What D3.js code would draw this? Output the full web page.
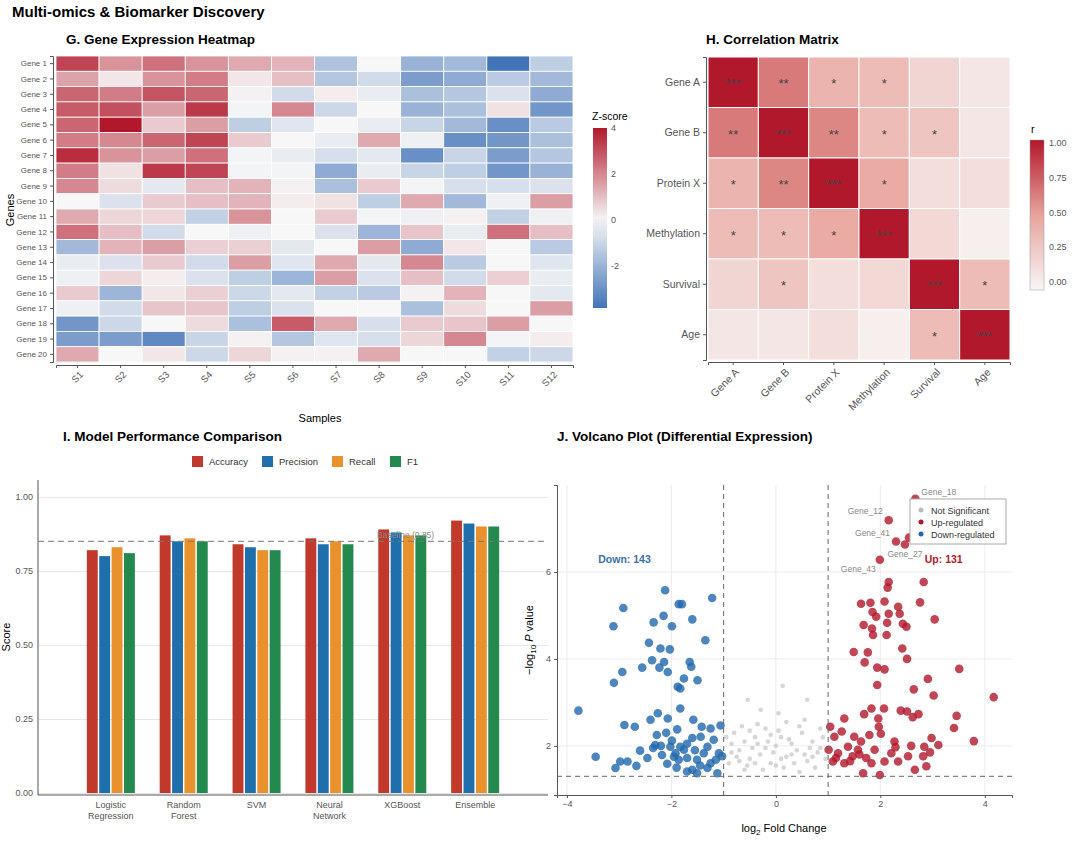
<!DOCTYPE html>
<html><head><meta charset="utf-8">
<script src="https://cdn.jsdelivr.net/npm/d3@7"></script>
<style>body{margin:0;background:#fff}text{font-family:"Liberation Sans",Arial,sans-serif}</style>
</head><body><div id="chart"></div>
<script>
// ---- data ----
const genes = d3.range(1, 21).map(i => 'Gene ' + i)
const samples = d3.range(1, 13).map(i => 'S' + i)
const zScores = [
  [3.2,1.8,2.4,1.8,1.4,1.2,-1.5,0,-2,-1.8,-3.8,-1.2],
  [1.5,0.3,1.8,2.2,0.3,1.0,-1.4,-0.8,-2.6,-2.2,-1.3,-1.8],
  [2.6,2.2,2.9,2.6,0.1,-0.8,0.2,-0.3,-1.6,-1.4,-0.6,-2.2],
  [2.8,3.0,1.6,3.4,-0.1,2.0,-0.9,0,-2.0,-1.6,0.4,-2.8],
  [2.6,4.0,0.8,1.6,-1.2,-0.5,0,-0.3,-1.0,-1.8,-3.0,-1.3],
  [2.2,2.0,2.6,3.2,0.8,0,-0.3,1.4,-0.2,-3.0,-2.8,-1.6],
  [3.6,1.8,1.6,2.4,-0.1,-0.3,-0.7,-0.4,-3.0,-1.0,-2.6,-1.4],
  [2.2,0.4,3.4,3.2,-0.1,-0.1,-2.2,-0.3,-1.0,-1.2,-2.8,-2.0],
  [2.0,0.5,-0.4,1.0,1.2,0.1,-1.6,0.8,-0.1,-0.7,-0.7,-0.6],
  [0,-0.6,0.8,1.0,1.2,0.2,0.4,-1.2,1.4,-1.8,-0.2,1.6],
  [1.4,0.6,0.6,-1.1,1.8,0,0.8,-0.1,-0.2,0.1,-1.1,-0.2],
  [2.4,1.0,-0.8,0,-0.2,0,-0.6,-1.9,0.9,-0.3,2.4,1.0],
  [-1.8,1.2,1.6,0.7,0.7,-0.4,0,1.6,-2.2,0.3,0,-1.3],
  [-0.3,-0.6,0.8,-0.8,1.6,-0.5,1.4,-0.4,2.0,-1.3,0,-0.5],
  [-0.2,0.6,0.2,-0.6,-1.2,-1.9,1.6,-0.6,1.0,-0.8,0.7,-0.3],
  [0.8,-1.9,0.3,0.7,-0.9,-0.4,-1.1,-1.3,0.1,1.2,0,-0.4],
  [-0.2,-0.8,0.9,0.9,-1.2,-0.6,0,0,-1.6,0.5,0,1.6],
  [-2.8,-0.9,0,0.5,-1.6,2.8,1.4,-0.7,0.8,0.9,1.6,0],
  [-2.6,-2.6,-3.2,-1.0,0.1,-1.4,-0.5,-0.7,0.6,2.0,-0.1,0.2],
  [1.4,0,0.3,-0.9,0.6,0.1,0.1,1.4,0,0,-1.1,-0.9]
]
const zTicks = [4, 2, 0, -2]

const corrVars = ['Gene A', 'Gene B', 'Protein X', 'Methylation', 'Survival', 'Age']
const corrValues = [
  [1.00,0.65,0.40,0.35,0.20,0.10],
  [0.65,1.00,0.60,0.35,0.30,0.10],
  [0.40,0.60,1.00,0.45,0.15,0.15],
  [0.35,0.35,0.45,1.00,0.18,0.05],
  [0.20,0.30,0.15,0.18,1.00,0.35],
  [0.10,0.10,0.15,0.05,0.35,1.00]
]
const corrStars = [
  ['***','**','*','*','',''],
  ['**','***','**','*','*',''],
  ['*','**','***','*','',''],
  ['*','*','*','***','',''],
  ['','*','','','***','*'],
  ['','','','','*','***']
]
const rTicks = [1.00, 0.75, 0.50, 0.25, 0.00]

const models = ['Logistic\nRegression', 'Random\nForest', 'SVM', 'Neural\nNetwork', 'XGBoost', 'Ensemble']
const metrics = ['Accuracy', 'Precision', 'Recall', 'F1']
const accuracy = [0.82, 0.87, 0.84, 0.86, 0.89, 0.92]
const precision = [0.80, 0.85, 0.83, 0.84, 0.88, 0.91]
const recall = [0.83, 0.86, 0.82, 0.85, 0.87, 0.90]
const f1 = [0.81, 0.85, 0.82, 0.84, 0.87, 0.90]
const baseline = 0.85
const scoreTicks = [0, 0.25, 0.5, 0.75, 1]

const downGenes = [[-3.78,2.81],[-3.45,1.75],[-3.11,4.75],[-3.10,3.45],[-2.92,5.17],[-2.94,3.70],[-2.9,2.48],[-2.70,2.44],[-2.6,1.89],[-2.34,4.84],[-2.43,4.37],[-2.37,3.97],[-2.56,3.80],[-2.40,2.6],[-2.26,2.75],[-2.15,4.99],[-2.12,5.58],[-1.99,4.75],[-2.03,4.22],[-2.21,4.24],[-2.14,3.93],[-2.23,3.80],[-2.07,3.70],[-1.86,5.26],[-1.80,5.26],[-1.60,4.91],[-1.65,3.93],[-1.62,3.82],[-1.76,3.55],[-1.88,3.36],[-1.83,3.32],[-1.50,3.51],[-1.35,4.43],[-1.22,5.40],[-1.83,2.86],[-2.07,2.63],[-1.58,2.6],[-1.42,2.44],[-1.06,2.47],[-1.25,2.4],[-2.28,2.25],[-2.2,2.0],[-2.46,1.72],[-2.02,1.98],[-1.92,1.83],[-1.86,1.68],[-1.76,1.91],[-1.70,1.72],[-1.60,1.45],[-1.51,1.68],[-1.44,2.21],[-1.31,1.98],[-1.19,2.14],[-1.15,1.68],[-1.09,1.83],[-1.12,1.37],[-1.70,1.41],[-2.08,1.59],[-2.18,1.79],[-3.07,1.49],[-2.98,1.64],[-2.84,1.64],[-2.67,1.54],[-1.89,2.38],[-1.6,2.18],[-1.99,2.12],[-1.38,1.83],[-1.31,1.49],[-1.51,1.37],[-1.03,1.76],[-1.83,1.98],[-2.31,2.02],[-1.95,1.75],[-1.55,1.9],[-1.25,1.6],[-2.1,2.3],[-1.7,2.05],[-1.45,1.55],[-1.9,1.5],[-2.35,1.95]]
const upGenes = [[2.16,7.19],[2.67,7.68],[2.30,6.70],[2.47,6.63],[2.55,6.79],[1.99,6.28],[2.16,5.77],[2.14,5.64],[2.83,5.77],[1.63,5.27],[1.81,5.29],[2.08,5.32],[2.34,5.20],[2.76,5.30],[3.04,4.91],[1.85,5.08],[1.92,4.97],[2.16,5.04],[2.37,5.04],[1.68,4.78],[1.84,4.70],[1.86,4.55],[2.13,4.83],[2.12,4.55],[2.43,4.81],[2.50,4.74],[1.49,4.16],[1.76,4.15],[2.42,4.24],[1.70,3.92],[2.51,4.0],[1.94,3.80],[2.08,3.76],[3.51,3.77],[1.94,3.40],[2.91,3.54],[2.64,3.30],[3.02,3.16],[4.17,3.12],[1.83,2.86],[2.07,2.86],[1.69,2.73],[2.39,2.81],[2.51,2.79],[2.62,2.66],[2.73,2.73],[1.96,2.63],[1.31,2.63],[3.46,2.69],[3.41,2.41],[3.79,2.11],[1.97,2.44],[1.04,2.44],[1.12,2.21],[1.26,2.33],[1.50,2.21],[1.63,2.10],[1.79,2.25],[2.01,2.28],[2.27,2.10],[2.59,2.0],[2.84,1.98],[2.98,2.18],[3.11,2.02],[2.95,1.85],[2.88,1.53],[2.66,1.45],[2.53,1.76],[2.34,1.64],[2.21,1.83],[1.99,1.33],[1.67,1.37],[1.83,1.60],[1.47,1.76],[1.31,1.60],[1.19,1.83],[1.09,1.64],[1.38,1.98],[1.57,1.91],[1.73,1.72],[1.89,1.91],[2.08,1.64],[2.29,1.97],[1.01,1.91],[2.82,1.76],[1.15,1.72],[1.42,1.65],[1.6,1.8]]
const nsGenes = [[0.13,3.38],[-0.54,3.06],[0.6,3.06],[-0.29,2.83],[-0.8,2.3],[-0.7,1.9],[-0.6,2.1],[-0.5,1.7],[-0.4,2.2],[-0.3,1.8],[-0.2,2.4],[-0.1,1.6],[0,2.0],[0.1,2.2],[0.2,1.75],[0.3,2.05],[0.4,1.9],[0.5,2.3],[0.6,1.65],[0.7,2.1],[0.8,1.85],[0.9,2.2],[-0.9,1.6],[-0.85,2.05],[-0.75,1.75],[-0.65,2.45],[-0.55,1.55],[-0.45,1.95],[-0.35,2.5],[-0.25,1.45],[-0.15,2.1],[-0.05,1.85],[0.05,2.35],[0.15,1.5],[0.25,2.15],[0.35,1.6],[0.45,2.45],[0.55,1.8],[0.65,1.95],[0.75,1.5],[0.85,2.4],[0.95,1.7],[-0.95,2.2],[-0.6,1.45],[-0.2,1.95],[0.2,2.55],[0.45,1.4],[-0.4,1.6],[0.0,1.55],[0.3,1.8],[-0.7,1.65],[0.7,1.75],[-0.1,2.25],[0.1,1.7],[0.55,2.6],[-0.35,2.05],[0.85,1.95],[-0.85,1.85],[0.05,2.75],[-0.5,2.35]]
const labelled = [['Gene_18',2.67,7.68,'r'],['Gene_12',2.16,7.19,'l'],['Gene_41',2.30,6.70,'l'],['Gene_27',2.47,6.63,'b'],['Gene_43',1.99,6.28,'bl']]

// ---- canvas ----
const svg = d3.select('#chart').append('svg').attr('width', 1080).attr('height', 848)
svg.append('text').attr('x', 12).attr('y', 17).attr('font-size', 15).attr('font-weight', 'bold').text('Multi-omics & Biomarker Discovery')

function title(x, y, t) {
  svg.append('text').attr('x', x).attr('y', y).attr('font-size', 13.5).attr('font-weight', 'bold').text(t)
}
const tickTxt = '#555'

// ---- G. heatmap ----
title(66, 44, 'G. Gene Expression Heatmap')
const hx = d3.scaleBand().domain(samples).range([56, 573])
const hy = d3.scaleBand().domain(genes).range([56, 362])
const zColor = d3.scaleLinear().domain([-4, 0, 4]).range(['#3a6db5', '#f7f7f7', '#b2182b'])
const heat = svg.append('g')
zScores.forEach((row, i) => row.forEach((v, j) => {
  heat.append('rect').attr('x', hx(samples[j])).attr('y', hy(genes[i]))
    .attr('width', hx.bandwidth()).attr('height', hy.bandwidth())
    .attr('fill', zColor(v)).attr('stroke', '#fff').attr('stroke-width', 0.8)
}))
svg.append('g').attr('transform', 'translate(53,0)').call(d3.axisLeft(hy).tickSize(3))
  .call(g => g.selectAll('text').attr('font-size', 8).attr('fill', tickTxt))
  .call(g => g.selectAll('line,path').attr('stroke', '#555'))
svg.append('g').attr('transform', 'translate(0,365)').call(d3.axisBottom(hx).tickSize(3))
  .call(g => g.selectAll('text').attr('font-size', 9.5).attr('fill', tickTxt)
    .attr('text-anchor', 'end').attr('transform', 'rotate(-45)').attr('dx', '-0.3em').attr('dy', '0.6em'))
  .call(g => g.selectAll('line,path').attr('stroke', '#555'))
svg.append('text').attr('x', 320).attr('y', 422).attr('text-anchor', 'middle').attr('font-size', 11).text('Samples')
svg.append('text').attr('transform', 'translate(14,210) rotate(-90)').attr('text-anchor', 'middle').attr('font-size', 11).text('Genes')

// z legend
const defs = svg.append('defs')
const zg = defs.append('linearGradient').attr('id', 'zg').attr('x1', 0).attr('x2', 0).attr('y1', 1).attr('y2', 0)
d3.range(0, 1.01, 0.1).forEach(t => zg.append('stop').attr('offset', t).attr('stop-color', zColor(-3.8 + t * 7.8)))
const zLeg = d3.scaleLinear().domain([-3.8, 4]).range([308, 128])
svg.append('text').attr('x', 592).attr('y', 120).attr('font-size', 10.5).text('Z-score')
svg.append('rect').attr('x', 593).attr('y', 128).attr('width', 14).attr('height', 180).attr('fill', 'url(#zg)')
zTicks.forEach(t => svg.append('text').attr('x', 611).attr('y', zLeg(t) + 3).attr('font-size', 9).attr('fill', tickTxt).text(t))

// ---- H. correlation ----
title(706, 44, 'H. Correlation Matrix')
const cx = d3.scaleBand().domain(corrVars).range([708, 1010])
const cy = d3.scaleBand().domain(corrVars).range([57, 360])
const rColor = d3.scaleLinear().domain([0, 0.5, 1]).range(['#f7f7f7', '#e8a39c', '#b2182b'])
corrValues.forEach((row, i) => row.forEach((v, j) => {
  svg.append('rect').attr('x', cx(corrVars[j])).attr('y', cy(corrVars[i]))
    .attr('width', cx.bandwidth()).attr('height', cy.bandwidth())
    .attr('fill', rColor(v)).attr('stroke', '#fff').attr('stroke-width', 1)
  if (corrStars[i][j]) svg.append('text').attr('x', cx(corrVars[j]) + cx.bandwidth() / 2)
    .attr('y', cy(corrVars[i]) + cy.bandwidth() / 2 + 6).attr('text-anchor', 'middle')
    .attr('font-size', 13).attr('fill', '#444').text(corrStars[i][j])
}))
svg.append('g').attr('transform', 'translate(706,0)').call(d3.axisLeft(cy).tickSize(3))
  .call(g => g.selectAll('text').attr('font-size', 10.5).attr('fill', tickTxt))
  .call(g => g.selectAll('line,path').attr('stroke', '#555'))
svg.append('g').attr('transform', 'translate(0,362)').call(d3.axisBottom(cx).tickSize(3))
  .call(g => g.selectAll('text').attr('font-size', 10.5).attr('fill', tickTxt)
    .attr('text-anchor', 'end').attr('transform', 'rotate(-45)').attr('dx', '-0.3em').attr('dy', '0.6em'))
  .call(g => g.selectAll('line,path').attr('stroke', '#555'))
const rg = defs.append('linearGradient').attr('id', 'rg').attr('x1', 0).attr('x2', 0).attr('y1', 1).attr('y2', 0)
d3.range(0, 1.01, 0.1).forEach(t => rg.append('stop').attr('offset', t).attr('stop-color', rColor(t)))
const rLeg = d3.scaleLinear().domain([0, 1]).range([282, 143])
svg.append('text').attr('x', 1031).attr('y', 133).attr('font-size', 10.5).text('r')
svg.append('rect').attr('x', 1030).attr('y', 140).attr('width', 14).attr('height', 150).attr('fill', 'url(#rg)').attr('stroke', '#999').attr('stroke-width', 0.5)
rTicks.forEach(t => svg.append('text').attr('x', 1049).attr('y', rLeg(t) + 3).attr('font-size', 9).attr('fill', tickTxt).text(t.toFixed(2)))

// ---- I. bars ----
title(63, 441, 'I. Model Performance Comparison')
const metricColors = ['#c0392b', '#1f6fad', '#e8912d', '#23894f']
const metricValues = [accuracy, precision, recall, f1]
const bx = d3.scalePoint().domain(models).range([38, 548]).padding(1)
const by = d3.scaleLinear().domain([0, 1.057]).range([793, 480])
const bSub = d3.scaleBand().domain(metrics).range([-24, 24]).paddingInner(0.12)
svg.append('g').attr('transform', 'translate(38,0)')
  .call(d3.axisLeft(by).tickValues(scoreTicks).tickSize(-510).tickFormat(d3.format('.2f')))
  .call(g => g.select('.domain').remove())
  .call(g => g.selectAll('line').attr('stroke', '#e6e6e6'))
  .call(g => g.selectAll('text').attr('font-size', 9).attr('fill', tickTxt).attr('x', -5))
svg.append('line').attr('x1', 38).attr('x2', 38).attr('y1', 480).attr('y2', 795).attr('stroke', '#555')
svg.append('line').attr('x1', 38).attr('x2', 548).attr('y1', 795).attr('y2', 795).attr('stroke', '#555')
metrics.forEach((m, k) => {
  svg.append('g').selectAll('rect').data(metricValues[k]).join('rect')
    .attr('x', (d, i) => bx(models[i]) + bSub(m)).attr('width', bSub.bandwidth())
    .attr('y', d => by(d)).attr('height', d => by(0) - by(d)).attr('fill', metricColors[k])
})
svg.append('line').attr('x1', 38).attr('x2', 548).attr('y1', by(baseline)).attr('y2', by(baseline))
  .attr('stroke', '#777').attr('stroke-dasharray', '6,4')
svg.append('text').attr('x', 377).attr('y', by(baseline) - 3).attr('font-size', 8.5).attr('fill', '#888').text('Baseline (0.85)')
models.forEach(m => {
  m.split('\n').forEach((ln, li) => svg.append('text').attr('x', bx(m)).attr('y', 808 + li * 11)
    .attr('text-anchor', 'middle').attr('font-size', 9).attr('fill', tickTxt).text(ln))
})
svg.append('text').attr('transform', 'translate(10,637) rotate(-90)').attr('text-anchor', 'middle').attr('font-size', 11).text('Score')
const legX = [192, 262, 332, 390]
metrics.forEach((m, k) => {
  svg.append('rect').attr('x', legX[k]).attr('y', 456).attr('width', 11).attr('height', 11).attr('fill', metricColors[k])
  svg.append('text').attr('x', legX[k] + 17).attr('y', 465).attr('font-size', 9.5).attr('fill', '#333').text(m)
})

// ---- J. volcano ----
title(557, 441, 'J. Volcano Plot (Differential Expression)')
const vx = d3.scaleLinear().domain([-4.19, 4.52]).range([557, 1012])
const vy = d3.scaleLinear().domain([0.87, 8.0]).range([795, 485])
const vg = svg.append('g')
vg.selectAll('.gx').data([-4, -2, 0, 2, 4]).join('line').attr('x1', d => vx(d)).attr('x2', d => vx(d))
  .attr('y1', 485).attr('y2', 795).attr('stroke', '#ececec')
vg.selectAll('.gy').data([2, 4, 6]).join('line').attr('y1', d => vy(d)).attr('y2', d => vy(d))
  .attr('x1', 557).attr('x2', 1012).attr('stroke', '#ececec')
svg.append('g').attr('transform', 'translate(0,795)').call(d3.axisBottom(vx).tickValues([-4, -2, 0, 2, 4]).tickSize(3))
  .call(g => g.selectAll('text').attr('font-size', 9).attr('fill', tickTxt))
  .call(g => g.selectAll('line,path').attr('stroke', '#555'))
svg.append('g').attr('transform', 'translate(557,0)').call(d3.axisLeft(vy).tickValues([2, 4, 6]).tickSize(3))
  .call(g => g.selectAll('text').attr('font-size', 9).attr('fill', tickTxt))
  .call(g => g.selectAll('line,path').attr('stroke', '#555'))
svg.append('g').selectAll('circle').data(nsGenes).join('circle')
  .attr('cx', d => vx(d[0])).attr('cy', d => vy(d[1])).attr('r', 2.3).attr('fill', '#c4c4c4').attr('opacity', 0.7)
svg.append('g').selectAll('circle').data(downGenes).join('circle')
  .attr('cx', d => vx(d[0])).attr('cy', d => vy(d[1])).attr('r', 4.3).attr('fill', '#2166ac').attr('opacity', 0.8)
svg.append('g').selectAll('circle').data(upGenes).join('circle')
  .attr('cx', d => vx(d[0])).attr('cy', d => vy(d[1])).attr('r', 4.3).attr('fill', '#b2182b').attr('opacity', 0.8)
;[-1, 1].forEach(v => svg.append('line').attr('x1', vx(v)).attr('x2', vx(v)).attr('y1', 485).attr('y2', 795)
  .attr('stroke', '#666').attr('stroke-dasharray', '5,4'))
svg.append('line').attr('x1', 557).attr('x2', 1012).attr('y1', vy(1.3)).attr('y2', vy(1.3))
  .attr('stroke', '#666').attr('stroke-dasharray', '5,4')
labelled.forEach(([n, x, y, pos]) => {
  const off = { r: [6, -4, 'start'], l: [-6, -6, 'end'], b: [0, 12, 'middle'], bl: [-4, 12, 'end'] }[pos]
  svg.append('text').attr('x', vx(x) + off[0]).attr('y', vy(y) + off[1]).attr('text-anchor', off[2])
    .attr('font-size', 8.5).attr('fill', '#888').text(n)
})
svg.append('text').attr('x', vx(-3.4)).attr('y', vy(6.2)).attr('font-size', 10.5).attr('font-weight', 'bold').attr('fill', '#3a6fa8').text('Down: 143')
svg.append('text').attr('x', vx(2.85)).attr('y', vy(6.2)).attr('font-size', 10.5).attr('font-weight', 'bold').attr('fill', '#b2182b').text('Up: 131')
const lg = svg.append('g').attr('transform', 'translate(910,499)')
lg.append('rect').attr('width', 96).attr('height', 45).attr('fill', '#fff').attr('stroke', '#aaa')
;[['Not Significant', '#bbb'], ['Up-regulated', '#b2182b'], ['Down-regulated', '#2166ac']].forEach(([t, c], i) => {
  lg.append('circle').attr('cx', 11).attr('cy', 11 + i * 12).attr('r', 2.5).attr('fill', c)
  lg.append('text').attr('x', 21).attr('y', 14.5 + i * 12).attr('font-size', 9).attr('fill', '#333').text(t)
})
const xl = svg.append('text').attr('x', 784).attr('y', 832).attr('text-anchor', 'middle').attr('font-size', 11)
xl.append('tspan').text('log')
xl.append('tspan').attr('font-size', 8).attr('dy', 3).text('2')
xl.append('tspan').attr('dy', -3).text(' Fold Change')
const yl = svg.append('text').attr('transform', 'translate(533,640) rotate(-90)').attr('text-anchor', 'middle').attr('font-size', 11)
yl.append('tspan').text('\u2212log')
yl.append('tspan').attr('font-size', 8).attr('dy', 3).text('10')
yl.append('tspan').attr('dy', -3).text(' ')
yl.append('tspan').attr('font-style', 'italic').text('P')
yl.append('tspan').text(' value')
</script></body></html>
